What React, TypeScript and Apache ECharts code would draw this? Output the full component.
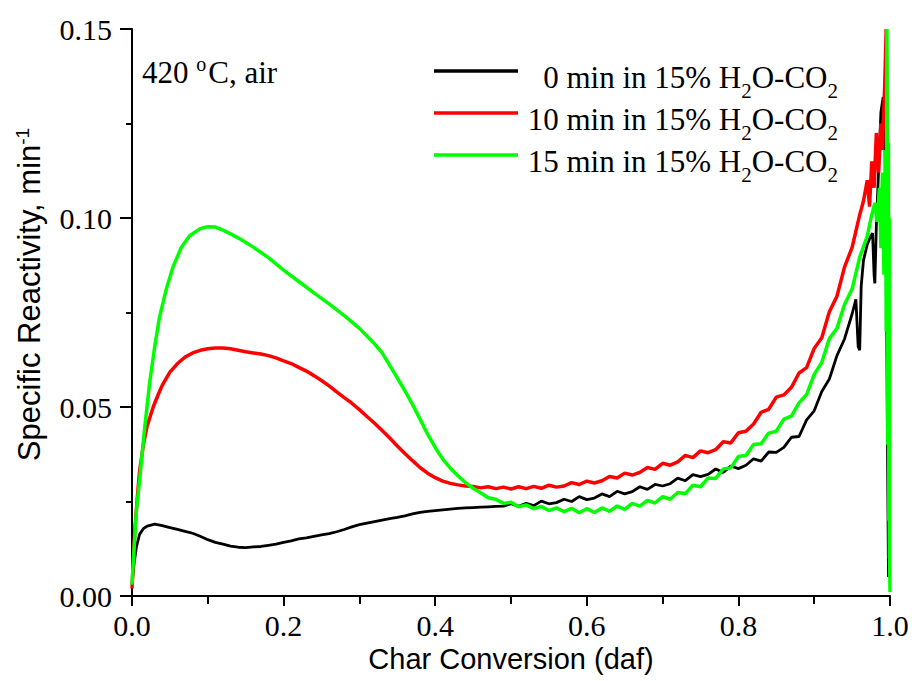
import React, { useEffect, useRef } from "react";
import * as echarts from "echarts";

// Char conversion (x) vs specific reactivity (y)
const series0min: [number, number][] = [
  [0, 0.003], [0.003, 0.009], [0.006, 0.0132], [0.01, 0.0163], [0.015, 0.0178], [0.02, 0.0185],
  [0.03, 0.019], [0.04, 0.0186], [0.05, 0.0181], [0.06, 0.0176], [0.07, 0.0171], [0.08, 0.0166],
  [0.09, 0.0158], [0.1, 0.0149], [0.11, 0.0142], [0.12, 0.0137], [0.13, 0.0132], [0.14, 0.0129],
  [0.15, 0.0128], [0.16, 0.013], [0.17, 0.0131], [0.18, 0.0134], [0.19, 0.0137], [0.2, 0.0142],
  [0.21, 0.0146], [0.22, 0.0151], [0.23, 0.0154], [0.24, 0.0158], [0.25, 0.0162], [0.26, 0.0165],
  [0.27, 0.017], [0.28, 0.0176], [0.29, 0.0183], [0.3, 0.0189], [0.31, 0.0193], [0.32, 0.0197],
  [0.33, 0.0201], [0.34, 0.0205], [0.35, 0.0208], [0.36, 0.0212], [0.37, 0.0217], [0.38, 0.0221],
  [0.39, 0.0224], [0.4, 0.0226], [0.41, 0.0228], [0.42, 0.023], [0.43, 0.0232], [0.44, 0.0233],
  [0.45, 0.0234], [0.46, 0.0235], [0.47, 0.0236], [0.48, 0.0237], [0.49, 0.0238],
  [0.5, 0.0244], [0.51, 0.0237], [0.52, 0.0245], [0.53, 0.0239], [0.54, 0.0251], [0.55, 0.0244],
  [0.56, 0.0247], [0.57, 0.0256], [0.58, 0.025], [0.59, 0.0263], [0.6, 0.0255], [0.61, 0.0259],
  [0.62, 0.027], [0.63, 0.0263], [0.64, 0.0277], [0.65, 0.027], [0.66, 0.0276], [0.67, 0.0289],
  [0.68, 0.0282], [0.69, 0.0295], [0.7, 0.0291], [0.71, 0.0297], [0.72, 0.0312], [0.73, 0.0305],
  [0.74, 0.0321], [0.75, 0.0316], [0.76, 0.0322], [0.77, 0.0336], [0.78, 0.0327], [0.79, 0.0344],
  [0.8, 0.0337], [0.81, 0.0346], [0.82, 0.0363], [0.83, 0.0357], [0.84, 0.0381], [0.85, 0.038],
  [0.86, 0.0393], [0.87, 0.042], [0.88, 0.0422], [0.89, 0.0466], [0.9, 0.049], [0.91, 0.0541],
  [0.92, 0.0574], [0.93, 0.0636], [0.94, 0.068], [0.95, 0.0746], [0.955, 0.0785], [0.958, 0.066],
  [0.96, 0.065], [0.962, 0.082], [0.965, 0.0888], [0.97, 0.093], [0.974, 0.095], [0.977, 0.096],
  [0.979, 0.085], [0.98, 0.0827], [0.982, 0.098], [0.985, 0.113], [0.988, 0.128], [0.991, 0.132],
  [0.993, 0.125], [0.995, 0.09], [0.997, 0.03], [0.998, 0.005],
];

const series10min: [number, number][] = [
  [0, 0.002], [0.002, 0.01], [0.004, 0.018], [0.007, 0.026], [0.01, 0.033], [0.015, 0.04],
  [0.02, 0.045], [0.028, 0.05], [0.035, 0.0535], [0.04, 0.0558], [0.05, 0.0592], [0.06, 0.0615],
  [0.07, 0.0632], [0.08, 0.0643], [0.09, 0.065], [0.1, 0.0654], [0.11, 0.0656], [0.12, 0.0656],
  [0.13, 0.0654], [0.14, 0.065], [0.15, 0.0646], [0.16, 0.0643], [0.17, 0.064], [0.18, 0.0636],
  [0.19, 0.063], [0.2, 0.0622], [0.21, 0.0615], [0.22, 0.0605], [0.23, 0.0595], [0.24, 0.0583],
  [0.25, 0.057], [0.26, 0.0556], [0.27, 0.054], [0.28, 0.0525], [0.29, 0.051], [0.3, 0.0493],
  [0.31, 0.0475], [0.32, 0.0457], [0.33, 0.0438], [0.34, 0.0418], [0.35, 0.0397], [0.36, 0.0377],
  [0.37, 0.0358], [0.38, 0.034], [0.39, 0.0325], [0.4, 0.0313], [0.41, 0.0304], [0.42, 0.0298],
  [0.43, 0.0294], [0.44, 0.0291],
  [0.45, 0.029], [0.46, 0.0286], [0.47, 0.0289], [0.48, 0.0284], [0.49, 0.0288], [0.5, 0.0283],
  [0.51, 0.0289], [0.52, 0.0284], [0.53, 0.029], [0.54, 0.0285], [0.55, 0.0293], [0.56, 0.0288],
  [0.57, 0.0291], [0.58, 0.03], [0.59, 0.0295], [0.6, 0.0304], [0.61, 0.0299], [0.62, 0.0305],
  [0.63, 0.0316], [0.64, 0.0312], [0.65, 0.0325], [0.66, 0.032], [0.67, 0.0327], [0.68, 0.034],
  [0.69, 0.0335], [0.7, 0.0351], [0.71, 0.0346], [0.72, 0.0355], [0.73, 0.0372], [0.74, 0.0366],
  [0.75, 0.0384], [0.76, 0.0379], [0.77, 0.0387], [0.78, 0.0408], [0.79, 0.0405], [0.8, 0.0432],
  [0.81, 0.0436], [0.82, 0.0455], [0.83, 0.0486], [0.84, 0.0494], [0.85, 0.0526], [0.86, 0.0532],
  [0.87, 0.0552], [0.88, 0.059], [0.89, 0.0604], [0.9, 0.0655], [0.91, 0.0683], [0.92, 0.0752],
  [0.93, 0.0793], [0.94, 0.087], [0.95, 0.0922], [0.96, 0.1008], [0.965, 0.1045], [0.97, 0.11],
  [0.973, 0.103], [0.976, 0.115], [0.979, 0.108], [0.982, 0.1225], [0.985, 0.112], [0.988, 0.125],
  [0.99, 0.118], [0.993, 0.135], [0.995, 0.15], [0.997, 0.1], [0.998, 0.05], [0.999, 0.01],
];

const series15min: [number, number][] = [
  [0, 0.003], [0.002, 0.01], [0.004, 0.017], [0.006, 0.023], [0.01, 0.0306], [0.016, 0.043],
  [0.023, 0.056], [0.03, 0.066], [0.036, 0.0735], [0.045, 0.081], [0.054, 0.087], [0.065, 0.0922],
  [0.076, 0.0953], [0.09, 0.0972], [0.1, 0.0977], [0.11, 0.0976], [0.12, 0.0968], [0.13, 0.0958],
  [0.145, 0.0942], [0.16, 0.0923], [0.18, 0.0895], [0.2, 0.0862], [0.22, 0.0832], [0.24, 0.0802],
  [0.26, 0.0773], [0.28, 0.0742], [0.3, 0.0708], [0.31, 0.0688], [0.32, 0.0667], [0.33, 0.0643],
  [0.34, 0.061], [0.35, 0.0577], [0.36, 0.0543], [0.37, 0.0507], [0.38, 0.0468], [0.39, 0.0428],
  [0.4, 0.0393], [0.41, 0.0362], [0.42, 0.0338], [0.43, 0.0318], [0.44, 0.03],
  [0.45, 0.0285], [0.46, 0.0273], [0.47, 0.026], [0.48, 0.0256], [0.49, 0.0245], [0.5, 0.0248],
  [0.51, 0.0236], [0.52, 0.0241], [0.53, 0.0231], [0.54, 0.0237], [0.55, 0.0226], [0.56, 0.0233],
  [0.57, 0.0223], [0.58, 0.0232], [0.59, 0.022], [0.6, 0.0231], [0.61, 0.0221], [0.62, 0.0233],
  [0.63, 0.0224], [0.64, 0.0238], [0.65, 0.0229], [0.66, 0.0245], [0.67, 0.0238], [0.68, 0.0253],
  [0.69, 0.0246], [0.7, 0.0263], [0.71, 0.0256], [0.72, 0.0274], [0.73, 0.0271], [0.74, 0.0293],
  [0.75, 0.0289], [0.76, 0.0312], [0.77, 0.0311], [0.78, 0.0336], [0.79, 0.0339], [0.8, 0.0369],
  [0.81, 0.0372], [0.82, 0.0401], [0.83, 0.0403], [0.84, 0.0431], [0.85, 0.0436], [0.86, 0.0468],
  [0.87, 0.0476], [0.88, 0.0511], [0.89, 0.0533], [0.9, 0.0586], [0.91, 0.0618], [0.92, 0.0681],
  [0.93, 0.0708], [0.94, 0.0771], [0.95, 0.0812], [0.96, 0.0896], [0.97, 0.0952], [0.975, 0.1],
  [0.98, 0.104], [0.983, 0.099], [0.986, 0.108], [0.988, 0.092], [0.99, 0.112], [0.992, 0.085],
  [0.994, 0.118], [0.995, 0.07], [0.996, 0.15], [0.997, 0.04], [0.998, 0.12], [0.9985, 0.02],
  [0.999, 0.1], [0.9995, 0.01], [1.0, 0.001],
];

const seriesNames = ["0 min in 15% H2O-CO2", "10 min in 15% H2O-CO2", "15 min in 15% H2O-CO2"];
const legendPrefixes = ["0 min", "10 min", "15 min"];
const seriesColors = ["#000000", "#ff0000", "#00ff00"];
const xTickLabels = ["0.0", "0.2", "0.4", "0.6", "0.8", "1.0"];
const yTickLabels = ["0.00", "0.05", "0.10", "0.15"];

export default function App() {
  const ref = useRef<HTMLDivElement>(null);
  useEffect(() => {
    if (!ref.current) return;
    const chart = echarts.init(ref.current, undefined, { renderer: "svg" });
    const serif = "'Liberation Serif', 'Times New Roman', serif";
    const sans = "'Liberation Sans', Arial, sans-serif";
    const legendYs = [71, 113, 155];
    const legendGraphics: any[] = [];
    legendPrefixes.forEach((p, i) => {
      legendGraphics.push({
        type: "line",
        shape: { x1: 434, y1: legendYs[i], x2: 518, y2: legendYs[i] },
        style: { stroke: seriesColors[i], lineWidth: 3.5 },
      });
      legendGraphics.push({
        type: "text",
        x: 838,
        y: legendYs[i] + 6,
        style: {
          text: `${p} in 15% H{sub|2}O-CO{sub|2}`,
          fontFamily: serif,
          fontSize: 31,
          fill: "#000",
          align: "right",
          verticalAlign: "middle",
          rich: {
            sub: { fontSize: 21, fontFamily: serif, fill: "#000", verticalAlign: "bottom", padding: [28, 0, 0, 0] },
          },
        },
      });
    });
    const option: any = {
      animation: false,
      backgroundColor: "#ffffff",
      grid: { left: 132, right: 28, top: 29, bottom: 85, containLabel: false },
      xAxis: {
        type: "value",
        min: 0,
        max: 1,
        interval: 0.2,
        name: "Char Conversion (daf)",
        nameLocation: "middle",
        nameGap: 46,
        nameTextStyle: { fontFamily: sans, fontSize: 29, color: "#000" },
        axisLine: { show: true, onZero: false, lineStyle: { color: "#000", width: 2 } },
        axisTick: { show: true, inside: false, length: 10, lineStyle: { color: "#000", width: 2 } },
        minorTick: { show: true, splitNumber: 2, length: 8, lineStyle: { color: "#000", width: 2 } },
        splitLine: { show: false },
        axisLabel: {
          margin: 14,
          fontFamily: serif,
          fontSize: 30,
          color: "#000",
          formatter: (v: number) => xTickLabels[Math.round(v / 0.2)] ?? "",
        },
      },
      yAxis: {
        type: "value",
        min: 0,
        max: 0.15,
        interval: 0.05,
        name: "Specific Reactivity, min{sup|-1}",
        nameLocation: "middle",
        nameGap: 86,
        nameTextStyle: {
          fontFamily: sans,
          fontSize: 31,
          color: "#000",
          padding: [0, 0, 0, 36],
          rich: { sup: { fontFamily: sans, fontSize: 19, color: "#000", verticalAlign: "top", padding: [0, 0, 14, 0] } },
        },
        axisLine: { show: true, onZero: false, lineStyle: { color: "#000", width: 2 } },
        axisTick: { show: true, inside: false, length: 12, lineStyle: { color: "#000", width: 2 } },
        minorTick: { show: true, splitNumber: 2, length: 6, lineStyle: { color: "#000", width: 2 } },
        splitLine: { show: false },
        axisLabel: {
          margin: 20,
          fontFamily: serif,
          fontSize: 30,
          color: "#000",
          formatter: (v: number) => yTickLabels[Math.round(v / 0.05)] ?? "",
        },
      },
      series: [series0min, series10min, series15min].map((d, i) => ({
        name: seriesNames[i],
        type: "line",
        data: d,
        showSymbol: false,
        symbol: "none",
        clip: true,
        lineStyle: { color: seriesColors[i], width: i === 0 ? 2.8 : 3.5 },
        itemStyle: { color: seriesColors[i] },
      })),
      graphic: [
        ...legendGraphics,
        {
          type: "text",
          x: 142,
          y: 72,
          style: {
            text: "420 {sup|o}C, air",
            fontFamily: serif,
            fontSize: 31,
            fill: "#000",
            align: "left",
            verticalAlign: "middle",
            rich: { sup: { fontFamily: serif, fontSize: 20, fill: "#000", verticalAlign: "top", padding: [0, 2, 16, 0] } },
          },
        },
      ],
    };
    chart.setOption(option);
    return () => chart.dispose();
  }, []);
  return (
    <div
      ref={ref}
      style={{ position: "fixed", left: 0, top: 0, width: 918, height: 681, background: "#fff" }}
    />
  );
}
